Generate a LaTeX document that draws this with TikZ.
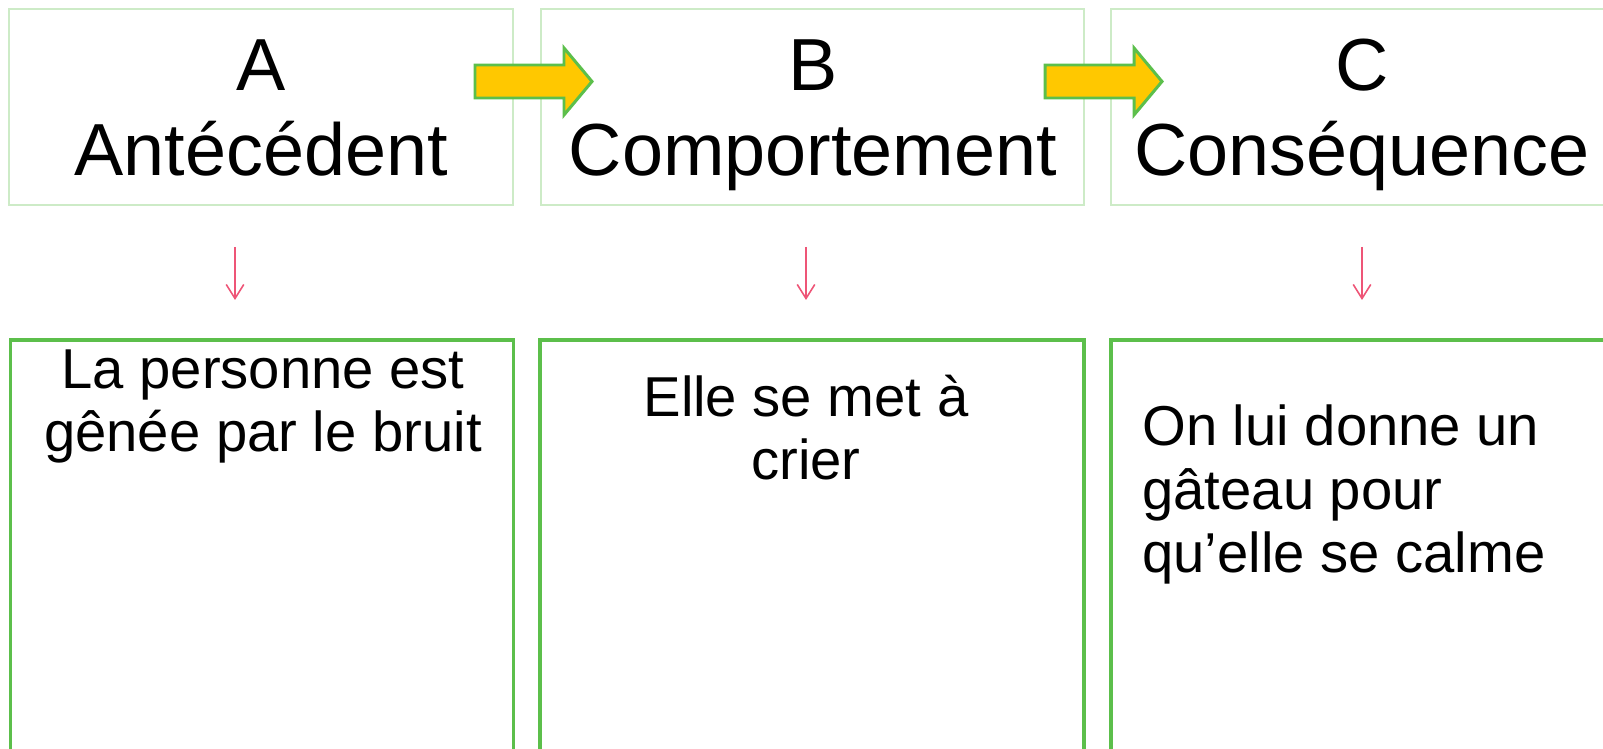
\documentclass[tikz,border=0pt]{standalone}
\usepackage{fontspec}
\setmainfont{Liberation Sans}
\usetikzlibrary{arrows.meta}
\definecolor{boxgreen}{HTML}{5CBF4B}
\definecolor{palegreen}{HTML}{CDEBC7}
\definecolor{arrowyellow}{HTML}{FFC800}
\definecolor{linkpink}{HTML}{EE5577}

\begin{document}
\begin{tikzpicture}[x=0.02cm, y=-0.02cm,
  titlebox/.style={draw=palegreen, line width=0.6pt},
  notebox/.style={draw=boxgreen, line width=2pt},
  blockarrow/.style={fill=arrowyellow, draw=boxgreen, line width=1.7pt, line join=miter},
  linkarrow/.style={draw=linkpink, line width=0.9pt, -{Straight Barb[length=8pt,width=10pt]}},
  titletext/.style={font=\fontsize{42}{48.4}\selectfont, align=center, anchor=base, inner sep=0pt},
  notetext/.style={font=\fontsize{32}{36.4}\selectfont, anchor=base, inner sep=0pt}]
\clip (0,0) rectangle (1603,749);
%title boxes
\draw[titlebox] (9,9) rectangle (513,205);
\draw[titlebox] (541,9) rectangle (1084,205);
\draw[titlebox] (1111,9) rectangle (1660,205);
%note boxes (run off the page)
\draw[notebox] (10.5,340) rectangle (513.5,800);
\draw[notebox] (540,340) rectangle (1084,800);
\draw[notebox] (1111,340) rectangle (1660,800);

%yellow arrows
\draw[blockarrow] (475,65) -- (564,65) -- (564,48) -- (592,81.5) -- (564,115) -- (564,98) -- (475,98) -- cycle;
\draw[blockarrow] (1045,65) -- (1134,65) -- (1134,48) -- (1162,81.5) -- (1134,115) -- (1134,98) -- (1045,98) -- cycle;

%titles (base = last line)
\node[titletext] (titleA) at (261,176) {A\\Antécédent};
\node[titletext] (titleB) at (813,176) {B\\Comportement};
\node[titletext] (titleC) at (1362,176) {C\\Conséquence};

%pink link coords
\coordinate (linkA1) at (235,247); \coordinate (linkA2) at (235,300);
\coordinate (linkB1) at (806,247); \coordinate (linkB2) at (806,300);
\coordinate (linkC1) at (1362,247); \coordinate (linkC2) at (1362,300);
\draw[linkarrow] (linkA1) -- (linkA2);
\draw[linkarrow] (linkB1) -- (linkB2);
\draw[linkarrow] (linkC1) -- (linkC2);

%notes
\node[notetext, align=center] (noteA) at (263,452) {La personne est\\gênée par le bruit};
\node[notetext, align=center] (noteB) at (806,480) {Elle se met à\\crier};
\node[notetext, align=left, anchor=base west] (noteC) at (1142,573) {On lui donne un\\gâteau pour\\qu’elle se calme};
\end{tikzpicture}
\end{document}
